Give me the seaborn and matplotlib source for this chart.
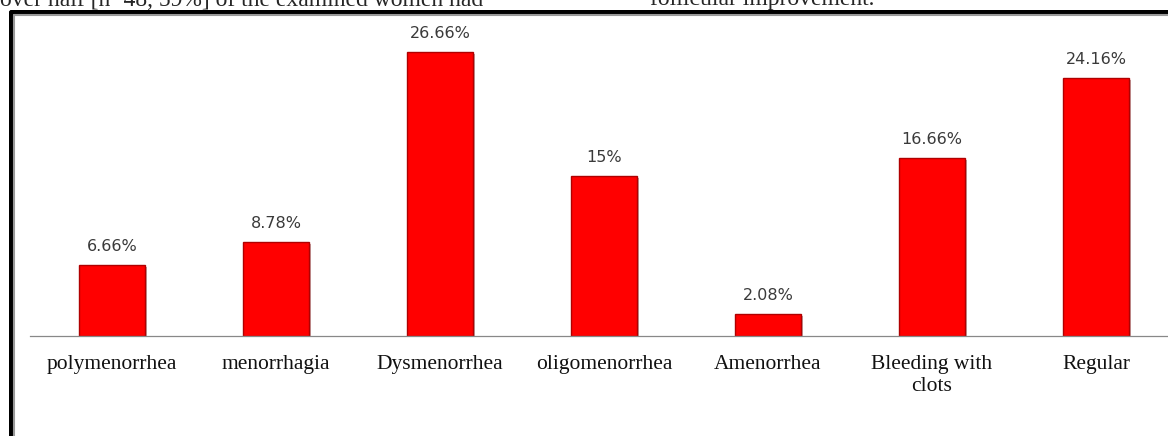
import matplotlib
matplotlib.use("Agg")
import matplotlib.pyplot as plt
import matplotlib.patheffects as pe
from matplotlib.lines import Line2D
import numpy as np
import pandas as pd
import seaborn as sns

categories = ["polymenorrhea", "menorrhagia", "Dysmenorrhea", "oligomenorrhea",
              "Amenorrhea", "Bleeding with\nclots", "Regular"]
percent = [6.66, 8.78, 26.66, 15, 2.08, 16.66, 24.16]

df = pd.DataFrame({"cat": categories, "pct": percent})

sns.set_style("white")
W, H = 1168, 436
fig = plt.figure(figsize=(W / 100, H / 100), dpi=100)

# axes: x from px 30 to 1178 (runs a bit off the right edge), baseline at px 336
ax = fig.add_axes([30 / W, 100 / H, 1148 / W, 320 / H])
sns.barplot(data=df, x="cat", y="pct", color="#FF0000", width=0.4,
            saturation=1, edgecolor="#B00000", linewidth=1.0, ax=ax)
for p in ax.patches:
    p.set_path_effects([pe.SimplePatchShadow(offset=(1.5, -1.5), alpha=0.35),
                        pe.Normal()])

ax.bar_label(ax.containers[0], labels=[f"{v:g}%" for v in percent],
             padding=8, fontsize=11.5, color="#3a3a3a", family="DejaVu Sans")

ax.set_xlim(-0.5, len(categories) - 0.5)
ax.set_ylim(0, 30)
ax.set_xlabel("")
ax.set_ylabel("")
ax.set_yticks([])
for s in ["top", "right", "left"]:
    ax.spines[s].set_visible(False)
ax.spines["bottom"].set_color("#888888")
ax.spines["bottom"].set_linewidth(0.9)

ax.set_xticks(np.arange(-0.5, len(categories)), minor=True)
ax.tick_params(axis="x", which="minor", length=4.5, color="#888888", width=0.8)
ax.tick_params(axis="x", which="major", length=0, pad=14)
for t in ax.get_xticklabels():
    t.set_fontfamily("Liberation Serif")
    t.set_fontsize(15.5)
    t.set_color("#111111")
    t.set_linespacing(1.15)

# double frame around the chart (black outer, grey inner)
px = lambda x: x / W
py = lambda y: 1 - y / H
fig.add_artist(Line2D([px(10.5), px(W + 5)], [py(12), py(12)], color="black",
                      lw=3.6, transform=fig.transFigure))
fig.add_artist(Line2D([px(10.5), px(10.5)], [py(12), py(H + 5)], color="black",
                      lw=3.6, transform=fig.transFigure))
fig.add_artist(Line2D([px(14), px(W + 5)], [py(15), py(15)], color="#999999",
                      lw=1.5, transform=fig.transFigure))
fig.add_artist(Line2D([px(14), px(14)], [py(15), py(H + 5)], color="#999999",
                      lw=1.5, transform=fig.transFigure))

# cut-off lines of the surrounding page text
fig.text(px(0), py(5.5), "over half [n=48, 59%] of the examined women had",
         fontsize=17, family="Liberation Serif", va="baseline", ha="left")
fig.text(px(650), py(5.5), "follicular improvement.",
         fontsize=17, family="Liberation Serif", va="baseline", ha="left")

fig.savefig("out.png", dpi=100)
